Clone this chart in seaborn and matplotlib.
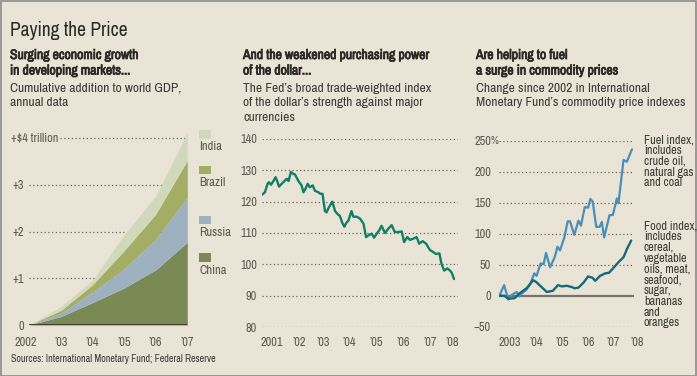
import numpy as np
import pandas as pd
import matplotlib
matplotlib.use("Agg")
import matplotlib.pyplot as plt
import matplotlib.patheffects as pe
import seaborn as sns
from matplotlib import font_manager as fm
from matplotlib.patches import Rectangle
from matplotlib.transforms import blended_transform_factory

# ---------------- data ----------------
gdp_years = [2002, 2003, 2004, 2005, 2006, 2007]
china = [0, 0.18, 0.48, 0.79, 1.18, 1.77]
russia = [0, 0.07, 0.23, 0.41, 0.66, 0.96]
brazil = [0, 0.06, 0.15, 0.39, 0.53, 0.79]
india = [0, 0.08, 0.10, 0.34, 0.39, 0.60]
gdp_tick_labels = ["2002", "’03", "’04", "’05", "’06", "’07"]
gdp_ylabels = ["0", "+1", "+2", "+3"]

dollar_t = [2001.0, 2001.11, 2001.21, 2001.26, 2001.34, 2001.43, 2001.51, 2001.57, 2001.64, 2001.8,
            2001.93, 2002.0, 2002.09, 2002.17, 2002.24, 2002.37, 2002.49, 2002.56, 2002.63, 2002.72,
            2002.8, 2002.91, 2002.99, 2003.12, 2003.2, 2003.28, 2003.37, 2003.43, 2003.52, 2003.65,
            2003.75, 2003.85, 2003.93, 2004.02, 2004.1, 2004.18, 2004.25, 2004.37, 2004.44, 2004.57,
            2004.69, 2004.82, 2004.92, 2005.0, 2005.13, 2005.22, 2005.32, 2005.42, 2005.5, 2005.63,
            2005.76, 2005.88, 2006.0, 2006.13, 2006.26, 2006.35, 2006.47, 2006.57, 2006.7, 2006.82,
            2006.92, 2007.05, 2007.18, 2007.32, 2007.45, 2007.55, 2007.68, 2007.76, 2007.86, 2007.98,
            2008.08, 2008.14, 2008.23]
dollar_v = [122.2, 123.0, 125.7, 126.2, 125.4, 126.6, 127.8, 126.6, 124.8, 126.2,
            127.3, 126.6, 129.5, 128.9, 128.7, 126.6, 125.2, 123.0, 124.0, 125.7,
            124.6, 125.2, 123.5, 123.0, 122.5, 122.5, 117.0, 116.6, 118.2, 120.0,
            117.0, 116.0, 115.5, 113.3, 112.0, 113.3, 113.9, 117.0, 115.2, 115.2,
            114.6, 113.0, 108.7, 109.2, 109.8, 108.5, 109.8, 110.9, 112.3, 110.0,
            111.4, 112.5, 110.3, 110.3, 110.5, 107.1, 108.7, 107.8, 108.2, 108.7,
            106.6, 107.4, 106.6, 104.6, 103.9, 103.3, 103.5, 100.1, 98.0, 98.7,
            98.0, 97.4, 95.3]
dollar_ylabels = ["80", "90", "100", "110", "120", "130", "140"]
dollar_xlabels = ["2001", "’02", "’03", "’04", "’05", "’06", "’07", "’08"]

fuel_t = [2003.0, 2003.19, 2003.35, 2003.48, 2003.68, 2003.78, 2003.92, 2004.05, 2004.2, 2004.37,
          2004.46, 2004.62, 2004.74, 2004.83, 2004.99, 2005.17, 2005.28, 2005.38, 2005.55, 2005.68,
          2005.77, 2005.94, 2006.1, 2006.2, 2006.35, 2006.48, 2006.57, 2006.66, 2006.8, 2006.93,
          2007.02, 2007.11, 2007.32, 2007.45, 2007.61, 2007.67, 2007.87, 2008.0, 2008.2]
fuel_v = [0, 17, -6, 1, 6, -1, 5, 9, 18, 36,
          32, 52, 51, 69, 46, 62, 79, 73, 94, 120,
          120, 98, 121, 113, 143, 142, 156, 152, 111, 111,
          119, 94, 130, 130, 157, 149, 219, 216, 236]
food_t = [2003.0, 2003.2, 2003.35, 2003.6, 2003.8, 2004.07, 2004.33, 2004.45, 2004.86, 2005.1,
          2005.3, 2005.45, 2005.64, 2005.84, 2005.95, 2006.1, 2006.3, 2006.48, 2006.65, 2006.76,
          2006.95, 2007.15, 2007.3, 2007.5, 2007.67, 2007.87, 2008.0, 2008.17]
food_v = [0, 0, -5, -4, 4, 12, 25, 22, 6, 8,
          17, 15, 16, 14, 12, 13, 21, 31, 29, 24,
          32, 36, 37, 46, 54, 62, 75, 89]
comm_ylabels = ["−50", "0", "50", "100", "150", "200", "250"]
comm_xlabels = ["2003", "’04", "’05", "’06", "’07", "’08"]

# ---------------- style ----------------
BG = "#e9e4d6"
sns.set_theme(style="white")

# prefer a narrow / condensed face if one is installed
narrow = None
for f in fm.fontManager.ttflist:
    if "Narrow" in f.name or ("Liberation Sans" in f.name and f.stretch == "condensed"):
        narrow = (f.name, f.stretch)
        break
if narrow is None:
    for f in fm.fontManager.ttflist:
        if f.name == "DejaVu Sans" and f.stretch == "condensed":
            narrow = (f.name, "condensed")
            break
if narrow is None:
    narrow = ("DejaVu Sans", "normal")
has_bold = any(f.name == narrow[0] and f.stretch == narrow[1] and
               (f.weight == "bold" or (isinstance(f.weight, int) and f.weight >= 600))
               for f in fm.fontManager.ttflist)
FONT = [narrow[0], "DejaVu Sans"]
plt.rcParams["font.family"] = FONT
plt.rcParams["font.stretch"] = narrow[1]
plt.rcParams["axes.facecolor"] = BG
plt.rcParams["figure.facecolor"] = BG

W, H = 697, 376
fig = plt.figure(figsize=(W / 100, H / 100), dpi=100)
fig.patch.set_facecolor(BG)

# scale font sizes so the text widths match the reference
_r = fig.canvas.get_renderer()
_t = fig.text(0, 0, "Cumulative addition to world GDP,", fontsize=9.7)
_w = _t.get_window_extent(_r).width
_t.remove()
K = min(1.0, 182.0 / _w)


def fs(v):
    return v * K


def rect(l, t, r, b):
    return [l / W, 1 - b / H, (r - l) / W, (b - t) / H]


def ftext(x, y, s, **kw):
    kw.setdefault("va", "center")
    kw.setdefault("ha", "left")
    return fig.text(x / W, 1 - y / H, s, **kw)


TXT = "#2b2925"
SUB = "#3e3b35"
TICK = "#5e5950"
GRID = "#6a665e"

if has_bold:
    BOLD = dict(fontweight="bold")
else:
    BOLD = dict(path_effects=[pe.withStroke(linewidth=0.55, foreground=TXT)])

# frame
fig.add_artist(Rectangle((0.5 / W, 0.5 / H), 1 - 1.5 / W, 1 - 1.5 / H, transform=fig.transFigure,
                         fill=False, edgecolor="#8c8c8c", linewidth=1.2))

# headers
ftext(10, 31, "Paying the Price", fontsize=fs(14.0), color=TXT)
hdr = [(10, ["Surging economic growth", "in developing markets..."],
        ["Cumulative addition to world GDP,", "annual data"]),
       (243, ["And the weakened purchasing power", "of the dollar..."],
        ["The Fed’s broad trade-weighted index", "of the dollar’s strength against major", "currencies"]),
       (476, ["Are helping to fuel", "a surge in commodity prices"],
        ["Change since 2002 in International", "Monetary Fund’s commodity price indexes"])]
for x, bold, norm in hdr:
    y = 55
    for s in bold:
        ftext(x, y, s, fontsize=fs(9.9), color=TXT, **BOLD)
        y += 15.5
    y = 88
    for s in norm:
        ftext(x, y, s, fontsize=fs(9.7), color=SUB)
        y += 14.7


def dotted(ax, y, x0=None, x1=None, **kw):
    xs = ax.get_xlim()
    ax.hlines(y, xs[0] if x0 is None else x0, xs[1] if x1 is None else x1,
              colors=GRID, linestyles=(0, (1, 2)), linewidth=0.9, zorder=1, **kw)


def quarter_ticks(ax, y0, y1):
    ax.set_xticks(list(range(y0, y1 + 1)))
    ax.set_xticks(list(np.arange(y0, y1 + 0.3, 0.25)), minor=True)
    ax.tick_params(axis="x", which="major", length=7, width=1.1, color="#4a4640",
                   labelbottom=False, direction="out", pad=0)
    ax.tick_params(axis="x", which="minor", length=4.5, width=0.9, color="#4a4640",
                   direction="out")


def xlabels(ax, positions, labels):
    tr = blended_transform_factory(ax.transData, fig.transFigure)
    for p, s in zip(positions, labels):
        ax.text(p, 1 - 343 / H, s, transform=tr, ha="center", va="center", fontsize=fs(8.9), color=TICK)


# ---------------- panel 1: stacked area ----------------
ax1 = fig.add_axes(rect(29.3, 131, 187.3, 325))
ax1.set_xlim(2002, 2007)
ax1.set_ylim(0, 4.15)
layers = [("China", china, "#7b8a55"), ("Russia", russia, "#9eb1c1"),
          ("Brazil", brazil, "#a3ad63"), ("India", india, "#d1d9bc")]
base = np.zeros(len(gdp_years))
for name, vals, col in layers:
    top = base + np.array(vals)
    ax1.fill_between(gdp_years, base, top, color=col, linewidth=0, zorder=2)
    base = top
sns.lineplot(x=gdp_years, y=[0] * len(gdp_years), ax=ax1, color="#3b3a2c", linewidth=1.3, zorder=3)
for yv in [1, 2, 3]:
    dotted(ax1, yv)
dotted(ax1, 4, x0=2002 + (60 - 29.3) / 31.6)
ftext(11, 138.3, "+$4 trillion", fontsize=fs(8.8), color=TICK)
ax1.set_yticks([0, 1, 2, 3])
ax1.set_yticklabels(gdp_ylabels)
ax1.tick_params(axis="y", length=0, labelsize=fs(8.9), labelcolor=TICK, pad=4)
ax1.set_xticks(gdp_years)
ax1.tick_params(axis="x", length=5, width=1, color="#4a4640", labelbottom=False)
xlabels(ax1, [2001.88, 2003, 2004, 2005, 2006, 2007], gdp_tick_labels)
for s in ax1.spines.values():
    s.set_visible(False)
ax1.set_xlabel("")
ax1.set_ylabel("")

# legend
leg = [("India", 130, 146.7, "#d1d9bc"), ("Brazil", 165.7, 182, "#a3ad63"),
       ("Russia", 216, 232.7, "#9eb1c1"), ("China", 253, 270, "#7b8a55")]
for name, sy, ty, col in leg:
    fig.add_artist(Rectangle((199 / W, 1 - (sy + 8.5) / H), 12 / W, 8.5 / H,
                             transform=fig.transFigure, facecolor=col, edgecolor="none"))
    ftext(199, ty, name, fontsize=fs(9.0), color=TICK)

ftext(11, 359, "Sources: International Monetary Fund; Federal Reserve", fontsize=fs(7.3), color=SUB)

# ---------------- panel 2: dollar index ----------------
ax2 = fig.add_axes(rect(262, 139, 458, 327))
ax2.set_xlim(2001, 2008.38)
ax2.set_ylim(80, 140)
for yv in range(80, 141, 10):
    dotted(ax2, yv)
dollar_df = pd.DataFrame({"t": dollar_t, "v": dollar_v})
sns.lineplot(data=dollar_df, x="t", y="v", ax=ax2, color="#0f8068", linewidth=1.7, zorder=3)
ax2.set_yticks(list(range(80, 141, 10)))
ax2.set_yticklabels(dollar_ylabels)
ax2.tick_params(axis="y", length=0, labelsize=fs(8.9), labelcolor=TICK, pad=3.5)
quarter_ticks(ax2, 2001, 2008)
xlabels(ax2, [2001.36, 2002.39, 2003.32, 2004.3, 2005.32, 2006.3, 2007.32, 2008.18], dollar_xlabels)
for s in ax2.spines.values():
    s.set_visible(False)
ax2.set_xlabel("")
ax2.set_ylabel("")

# ---------------- panel 3: commodity indexes ----------------
ax3 = fig.add_axes(rect(499.3, 140.7, 634, 326.7))
ax3.set_xlim(2003, 2008.28)
ax3.set_ylim(-50, 250)
for yv in [-50, 50, 100, 150, 200, 250]:
    dotted(ax3, yv)
ax3.axhline(0, color="#77736a", linewidth=1.6, zorder=2)
sns.lineplot(x=fuel_t, y=fuel_v, ax=ax3, color="#4a8fba", linewidth=1.6, zorder=4)
sns.lineplot(x=food_t, y=food_v, ax=ax3, color="#14697e", linewidth=1.7, zorder=5)
ax3.set_yticks([-50, 0, 50, 100, 150, 200, 250])
ax3.set_yticklabels(comm_ylabels)
ax3.tick_params(axis="y", length=0, labelsize=fs(8.9), labelcolor=TICK, pad=6)
ftext(490.3, 140.7, "%", fontsize=fs(7.8), color=TICK)
quarter_ticks(ax3, 2003, 2008)
xlabels(ax3, [2003.39, 2004.44, 2005.45, 2006.47, 2007.45, 2008.39], comm_xlabels)
for s in ax3.spines.values():
    s.set_visible(False)
ax3.set_xlabel("")
ax3.set_ylabel("")

fuel_note = ["Fuel index,", "includes", "crude oil,", "natural gas", "and coal"]
food_note = ["Food index,", "includes", "cereal,", "vegetable", "oils, meat,", "seafood,",
             "sugar,", "bananas", "and", "oranges"]
for i, s in enumerate(fuel_note):
    ftext(644, 140 + i * 10.7, s, fontsize=fs(8.8), color=SUB)
for i, s in enumerate(food_note):
    ftext(644, 226 + i * 10.75, s, fontsize=fs(8.8), color=SUB)

fig.savefig("out.png", dpi=100, facecolor=BG)
